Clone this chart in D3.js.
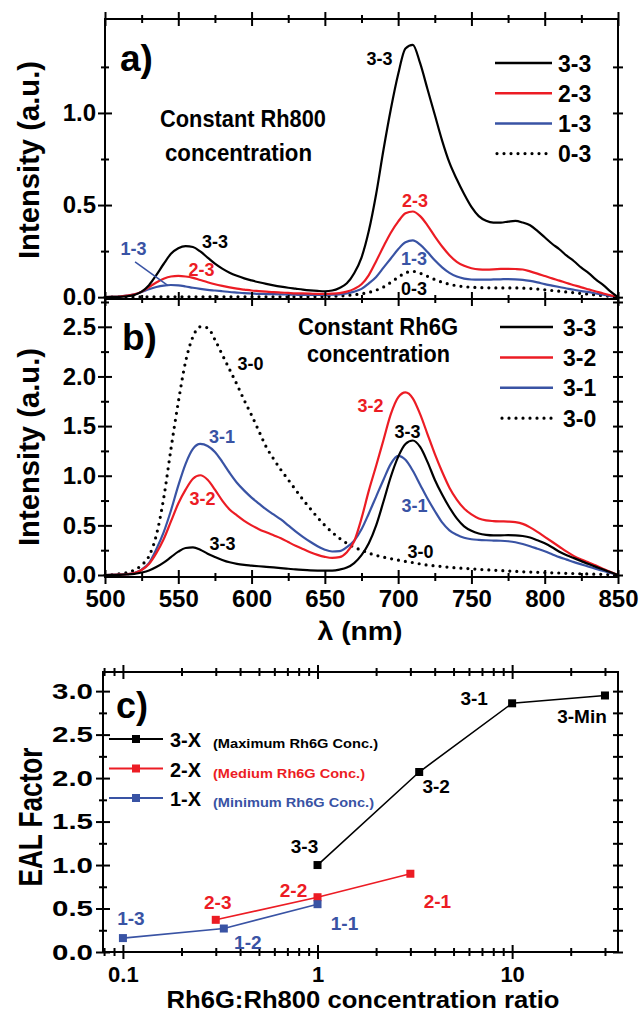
<!DOCTYPE html>
<html><head><meta charset="utf-8">
<script src="https://cdn.jsdelivr.net/npm/d3@7"></script>
<style>
body{margin:0;background:#fff}
svg{display:block}
text{font-family:"Liberation Sans",Arial,sans-serif;font-weight:bold}
</style>
</head><body>
<svg id="chart" width="641" height="1015"></svg>
<script>
// ---------- DATA ----------
const wavelengths = [500,505,510,515,520,525,530,535,540,545,550,555,560,565,570,575,580,585,590,595,600,605,610,615,620,625,630,635,640,645,650,655,660,665,670,675,680,685,690,695,700,705,710,715,720,725,730,735,740,745,750,755,760,765,770,775,780,785,790,795,800,805,810,815,820,825,830,835,840,845,850];

// Panel a (constant Rh800)
const a33 = [0.000,0.001,0.002,0.005,0.012,0.030,0.065,0.120,0.180,0.235,
0.265,0.277,0.272,0.248,0.215,0.182,0.155,0.133,0.116,0.102,
0.091,0.081,0.072,0.064,0.057,0.051,0.046,0.041,0.037,0.034,
0.032,0.036,0.050,0.075,0.130,0.215,0.360,0.560,0.800,1.020,
1.210,1.350,1.370,1.270,1.130,0.990,0.850,0.730,0.640,0.560,
0.490,0.440,0.415,0.405,0.405,0.410,0.414,0.405,0.390,0.360,
0.325,0.290,0.260,0.225,0.195,0.160,0.130,0.095,0.065,0.030,0.000];
const a23 = [0,0.001,0.003,0.008,0.015,0.030,0.055,0.080,0.100,0.112,
0.115,0.112,0.105,0.093,0.081,0.070,0.061,0.053,0.046,0.041,
0.036,0.033,0.030,0.027,0.025,0.023,0.021,0.020,0.019,0.018,
0.018,0.019,0.022,0.030,0.045,0.070,0.120,0.195,0.275,0.350,
0.410,0.455,0.465,0.440,0.390,0.330,0.275,0.228,0.192,0.170,
0.157,0.151,0.150,0.151,0.153,0.154,0.153,0.150,0.140,0.128,
0.115,0.102,0.090,0.077,0.065,0.053,0.042,0.031,0.020,0.010,0];
const a13 = [0,0.001,0.003,0.008,0.015,0.028,0.043,0.055,0.063,0.066,
0.064,0.058,0.051,0.045,0.040,0.036,0.032,0.028,0.025,0.022,
0.020,0.018,0.017,0.016,0.015,0.014,0.013,0.012,0.012,0.012,
0.012,0.013,0.015,0.020,0.030,0.045,0.075,0.110,0.160,0.210,
0.260,0.298,0.308,0.285,0.245,0.200,0.162,0.132,0.112,0.101,
0.096,0.095,0.095,0.096,0.097,0.098,0.097,0.094,0.088,0.080,
0.071,0.063,0.055,0.047,0.040,0.033,0.027,0.020,0.013,0.006,0];
const a03 = [0,0,0,0.001,0.001,0.001,0.002,0.002,0.002,0.002,
0.002,0.002,0.002,0.002,0.002,0.002,0.002,0.002,0.002,0.002,
0.002,0.002,0.002,0.002,0.002,0.002,0.002,0.002,0.002,0.002,
0.003,0.004,0.006,0.009,0.013,0.018,0.026,0.038,0.055,0.080,
0.108,0.132,0.140,0.130,0.113,0.096,0.081,0.070,0.062,0.057,
0.054,0.052,0.051,0.050,0.050,0.050,0.050,0.049,0.047,0.044,
0.040,0.036,0.032,0.028,0.024,0.020,0.016,0.012,0.008,0.004,0];

// Panel b (constant Rh6G)
const b33 = [0,0.001,0.002,0.006,0.012,0.025,0.045,0.080,0.125,0.180,
0.235,0.272,0.278,0.255,0.215,0.182,0.152,0.128,0.112,0.102,
0.095,0.088,0.082,0.076,0.070,0.063,0.056,0.051,0.047,0.045,
0.044,0.045,0.055,0.075,0.120,0.200,0.320,0.500,0.740,0.990,
1.190,1.320,1.355,1.290,1.140,0.960,0.810,0.680,0.570,0.490,
0.445,0.418,0.405,0.400,0.400,0.401,0.400,0.393,0.378,0.350,
0.320,0.280,0.235,0.200,0.170,0.140,0.110,0.082,0.055,0.027,0];
const b32 = [0,0.001,0.003,0.008,0.020,0.050,0.110,0.220,0.360,0.540,
0.720,0.860,0.970,1.005,0.960,0.860,0.750,0.660,0.600,0.545,
0.500,0.462,0.430,0.400,0.370,0.332,0.295,0.262,0.230,0.203,
0.183,0.172,0.180,0.230,0.340,0.570,0.850,1.100,1.360,1.620,
1.790,1.840,1.780,1.620,1.420,1.220,1.040,0.880,0.760,0.670,
0.610,0.570,0.550,0.543,0.540,0.538,0.532,0.515,0.480,0.435,
0.385,0.335,0.285,0.235,0.190,0.155,0.125,0.095,0.060,0.030,0];
const b31 = [0,0.001,0.003,0.008,0.020,0.055,0.120,0.260,0.430,0.650,
0.900,1.120,1.270,1.320,1.300,1.240,1.140,1.030,0.930,0.850,
0.780,0.720,0.660,0.610,0.560,0.500,0.440,0.385,0.335,0.290,
0.255,0.237,0.240,0.280,0.345,0.460,0.620,0.790,0.960,1.120,
1.200,1.160,1.050,0.910,0.770,0.645,0.530,0.450,0.405,0.375,
0.360,0.354,0.350,0.347,0.345,0.340,0.330,0.312,0.290,0.265,
0.240,0.210,0.180,0.155,0.130,0.107,0.085,0.062,0.040,0.020,0];
const b30 = [0,0.003,0.012,0.025,0.050,0.100,0.190,0.400,0.770,1.270,
1.740,2.150,2.400,2.500,2.490,2.370,2.220,2.070,1.920,1.760,
1.610,1.450,1.290,1.170,1.060,0.960,0.860,0.760,0.670,0.580,
0.500,0.430,0.370,0.320,0.280,0.250,0.220,0.198,0.180,0.165,
0.150,0.137,0.125,0.112,0.100,0.092,0.085,0.078,0.072,0.067,
0.062,0.057,0.053,0.049,0.045,0.041,0.037,0.033,0.030,0.027,
0.025,0.022,0.020,0.017,0.015,0.012,0.010,0.008,0.006,0.003,0];

// Panel c (EAL factor)
const ratio3 = [1, 3.33, 10, 30];
const eal3   = [1.00, 2.07, 2.86, 2.95];
const names3 = ["3-3", "3-2", "3-1", "3-Min"];
const ratio2 = [0.3, 1, 3];
const eal2   = [0.37, 0.63, 0.90];
const names2 = ["2-3", "2-2", "2-1"];
const ratio1 = [0.1, 0.33, 1];
const eal1   = [0.16, 0.27, 0.55];
const names1 = ["1-3", "1-2", "1-1"];

// Ticks
const xMajor = [500,550,600,650,700,750,800,850];
const xMinor = [525,575,625,675,725,775,825];
const yaMajor = [0,0.5,1.0];
const yaMinor = [0.25,0.75,1.25];
const ybMajor = [0,0.5,1.0,1.5,2.0,2.5];
const ybMinor = [0.25,0.75,1.25,1.75,2.25,2.75];
const ycMajor = [0,0.5,1.0,1.5,2.0,2.5,3.0];
const ycMinor = [0.25,0.75,1.25,1.75,2.25,2.75];
const xcMajor = [0.1,1,10];
const xcMinor = [0.08,0.09,0.2,0.3,0.4,0.5,0.6,0.7,0.8,0.9,2,3,4,5,6,7,8,9,20,30];

const legendA = ["3-3","2-3","1-3","0-3"];
const legendB = ["3-3","3-2","3-1","3-0"];
const legendC = ["3-X","2-X","1-X"];
const legendCNote = ["(Maximum Rh6G Conc.)","(Medium Rh6G Conc.)","(Minimum Rh6G Conc.)"];

// ---------- DRAWING ----------
const RED = "#ec1c24", BLUE = "#3953a4", BLACK = "#000";
const FONT = '"Liberation Sans", Arial, sans-serif';
const svg = d3.select("#chart");

const x = d3.scaleLinear().domain([500, 850]).range([105, 618]);
const ya = d3.scaleLinear().domain([-0.01, 1.51]).range([299, 19]);
const yb = d3.scaleLinear().domain([-0.02, 2.78]).range([577, 299]);
const xc = d3.scaleLog().domain([0.079, 35]).range([103, 618]);
const yc = d3.scaleLinear().domain([0, 3.22]).range([952, 672]);

function ticks(gen, pos, vals, half, fmt, horiz, pad) {
  const g = svg.append("g").attr("transform", horiz ? `translate(0,${pos})` : `translate(${pos},0)`);
  g.call(gen.tickValues(vals).tickSize(half).tickSizeOuter(0).tickPadding(pad || 2).tickFormat(fmt || (() => "")));
  g.select(".domain").remove();
  g.selectAll(".tick line").attr("stroke", BLACK).attr("stroke-width", 2)
    .each(function () {
      const l = d3.select(this);
      if (horiz) l.attr("y1", -half).attr("y2", half);
      else l.attr("x1", -half).attr("x2", half);
    });
  g.attr("font-family", FONT).attr("font-size", 24).attr("font-weight", "bold");
  g.selectAll("text").attr("fill", BLACK);
  return g;
}
function frame(xs, ys) {
  svg.append("rect").attr("x", xs.range()[0]).attr("y", ys.range()[1])
    .attr("width", xs.range()[1] - xs.range()[0]).attr("height", ys.range()[0] - ys.range()[1])
    .attr("fill", "none").attr("stroke", BLACK).attr("stroke-width", 2);
}
function txt(s, px, py, o) {
  o = o || {};
  const t = svg.append("text").attr("x", px).attr("y", py).text(s)
    .attr("fill", o.color || BLACK).attr("font-size", o.size || 18)
    .attr("text-anchor", o.anchor || "middle");
  if (o.family) t.attr("font-family", o.family);
  if (o.len) t.attr("textLength", o.len).attr("lengthAdjust", "spacingAndGlyphs");
  if (o.rot) t.attr("transform", `rotate(-90,${px},${py})`);
  return t;
}
function curve(ys, vals, color, dotted) {
  const line = d3.line().x(d => x(d[0])).y(d => ys(d[1])).curve(d3.curveMonotoneX);
  const p = svg.append("path").datum(d3.zip(wavelengths, vals)).attr("d", line)
    .attr("fill", "none").attr("stroke", color).attr("stroke-linejoin", "round");
  if (dotted) p.attr("stroke-width", 3.2).attr("stroke-dasharray", "0 7").attr("stroke-linecap", "round");
  else p.attr("stroke-width", 2.2);
}

// ---- Panel a ----
curve(ya, a03, BLACK, true);
curve(ya, a13, BLUE);
curve(ya, a23, RED);
curve(ya, a33, BLACK);
frame(x, ya);
ticks(d3.axisLeft(ya), 105, yaMajor, 7, d3.format(".1f"), false, 2);
ticks(d3.axisLeft(ya), 105, yaMinor, 4);
ticks(d3.axisRight(ya), 618, yaMajor.concat(yaMinor), 5);
ticks(d3.axisTop(x), 19, xMajor, 7, null, true);
ticks(d3.axisTop(x), 19, xMinor, 4, null, true);
ticks(d3.axisBottom(x), 299, xMajor, 7, null, true);
ticks(d3.axisBottom(x), 299, xMinor, 4, null, true);

txt("a)", 120, 71, {size: 37, anchor: "start"});
txt("Constant Rh800", 160, 127, {size: 24, anchor: "start", len: 166});
txt("concentration", 165, 161, {size: 24, anchor: "start", len: 147});
txt("Intensity (a.u.)", 39, 160, {size: 29, rot: true, len: 198});

const legA = [BLACK, RED, BLUE, BLACK];
legendA.forEach((s, i) => {
  const ly = 63 + i * 30.2;
  const l = svg.append("line").attr("x1", 495).attr("x2", 552).attr("y1", ly).attr("y2", ly)
    .attr("stroke", legA[i]).attr("stroke-width", i === 3 ? 3.2 : 2.5);
  if (i === 3) l.attr("stroke-dasharray", "0 7").attr("stroke-linecap", "round").attr("x1", 497);
  txt(s, 558, ly + 8.5, {size: 23, anchor: "start"});
});

// curve labels a
const labA = [["3-3", 575.0, 0.267, BLACK], ["2-3", 565.8, 0.115, RED], ["1-3", 519.4, 0.229, BLUE],
  ["3-3", 687.3, 1.26, BLACK], ["2-3", 711.5, 0.49, RED], ["1-3", 710.8, 0.175, BLUE], ["0-3", 710.8, 0.012, BLACK]];
labA.forEach(d => txt(d[0], x(d[1]), ya(d[2]), {color: d[3], size: 18, len: 26}));
svg.append("line").attr("x1", x(520.5)).attr("y1", ya(0.191)).attr("x2", x(543)).attr("y2", ya(0.063))
  .attr("stroke", BLUE).attr("stroke-width", 1.5);

// ---- Panel b ----
curve(yb, b30, BLACK, true);
curve(yb, b31, BLUE);
curve(yb, b32, RED);
curve(yb, b33, BLACK);
frame(x, yb);
ticks(d3.axisLeft(yb), 105, ybMajor, 7, d3.format(".1f"), false, 2);
ticks(d3.axisLeft(yb), 105, ybMinor, 4);
ticks(d3.axisRight(yb), 618, ybMajor.concat(ybMinor), 5);
ticks(d3.axisBottom(x), 577, xMajor, 7, d3.format("d"), true, 6);
ticks(d3.axisBottom(x), 577, xMinor, 4, null, true);

txt("b)", 122, 350, {size: 37, anchor: "start"});
txt("Constant Rh6G", 298, 335, {size: 24, anchor: "start", len: 160});
txt("concentration", 307, 362, {size: 24, anchor: "start", len: 143});
txt("Intensity (a.u.)", 39, 447, {size: 29, rot: true, len: 198});
txt("λ (nm)", 360, 640, {size: 26, len: 85});

const legB = [BLACK, RED, BLUE, BLACK];
legendB.forEach((s, i) => {
  const ly = 327 + i * 30.4;
  const l = svg.append("line").attr("x1", 500).attr("x2", 553).attr("y1", ly).attr("y2", ly)
    .attr("stroke", legB[i]).attr("stroke-width", i === 3 ? 3.2 : 2.5);
  if (i === 3) l.attr("stroke-dasharray", "0 7").attr("stroke-linecap", "round").attr("x1", 502);
  txt(s, 563, ly + 8.5, {size: 23, anchor: "start"});
});
const labB = [["3-0", 599.3, 2.065, BLACK], ["3-1", 579.8, 1.332, BLUE], ["3-2", 566.5, 0.705, RED], ["3-3", 580.2, 0.252, BLACK],
  ["3-2", 681.1, 1.642, RED], ["3-3", 706.4, 1.38, BLACK], ["3-1", 711.2, 0.634, BLUE], ["3-0", 715.3, 0.171, BLACK]];
labB.forEach(d => txt(d[0], x(d[1]), yb(d[2]), {color: d[3], size: 18, len: 26}));

// ---- Panel c ----
const OPEN = '"Open Sans", "Liberation Sans", sans-serif';
const series = [
  {r: ratio3, e: eal3, n: names3, c: BLACK},
  {r: ratio2, e: eal2, n: names2, c: RED},
  {r: ratio1, e: eal1, n: names1, c: BLUE}
];
const lineC = d3.line().x(d => xc(d[0])).y(d => yc(d[1]));
series.forEach(s => {
  const pts = d3.zip(s.r, s.e);
  svg.append("path").datum(pts).attr("d", lineC).attr("fill", "none").attr("stroke", s.c).attr("stroke-width", 1.6);
  svg.selectAll(null).data(pts).enter().append("rect")
    .attr("x", d => xc(d[0]) - 4).attr("y", d => yc(d[1]) - 4).attr("width", 8).attr("height", 8).attr("fill", s.c);
});
frame(xc, yc);
const gy = ticks(d3.axisLeft(yc), 103, ycMajor, 7, d3.format(".1f"), false, 3);
gy.selectAll("text").attr("font-size", 22).attr("textLength", 41).attr("lengthAdjust", "spacingAndGlyphs");
ticks(d3.axisLeft(yc), 103, ycMinor, 4);
ticks(d3.axisRight(yc), 618, ycMajor.concat(ycMinor), 5);
const gx = ticks(d3.axisBottom(xc), 952, xcMajor, 7, d => (d < 1 ? "0.1" : String(d)), true, 7);
gx.attr("font-size", 22);
ticks(d3.axisBottom(xc), 952, xcMinor, 4, null, true);
ticks(d3.axisTop(xc), 672, xcMajor, 7, null, true);
ticks(d3.axisTop(xc), 672, xcMinor, 4, null, true);

txt("c)", 116, 718, {size: 36, anchor: "start"});
txt("EAL Factor", 42, 817, {size: 33, rot: true, len: 139});
txt("Rh6G:Rh800 concentration ratio", 363, 1008, {size: 24, len: 393});

const noteLen = [165, 152, 161];
legendC.forEach((s, i) => {
  const ly = 739 + i * 29.5;
  const c = series[i].c;
  svg.append("line").attr("x1", 109).attr("x2", 163).attr("y1", ly).attr("y2", ly).attr("stroke", c).attr("stroke-width", 2);
  svg.append("rect").attr("x", 132).attr("y", ly - 4).attr("width", 8).attr("height", 8).attr("fill", c);
  txt(s, 170, ly + 8, {size: 21, anchor: "start", len: 31});
  txt(legendCNote[i], 213, ly + 9, {size: 13, anchor: "start", len: noteLen[i], color: c});
});

// point labels (offsets from their points)
const offs = [
  [[-13, -12], [17, 21], [-38, 2], [-23, 28]],
  [[2, -11], [-24, 0], [27, 34]],
  [[8, -13], [24, 20], [27, 26]]
];
series.forEach((s, si) => {
  s.n.forEach((nm, i) => {
    const o = offs[si][i];
    txt(nm, xc(s.r[i]) + o[0], yc(s.e[i]) + o[1], {color: s.c, size: 19, family: OPEN});
  });
});
</script>
</body></html>
